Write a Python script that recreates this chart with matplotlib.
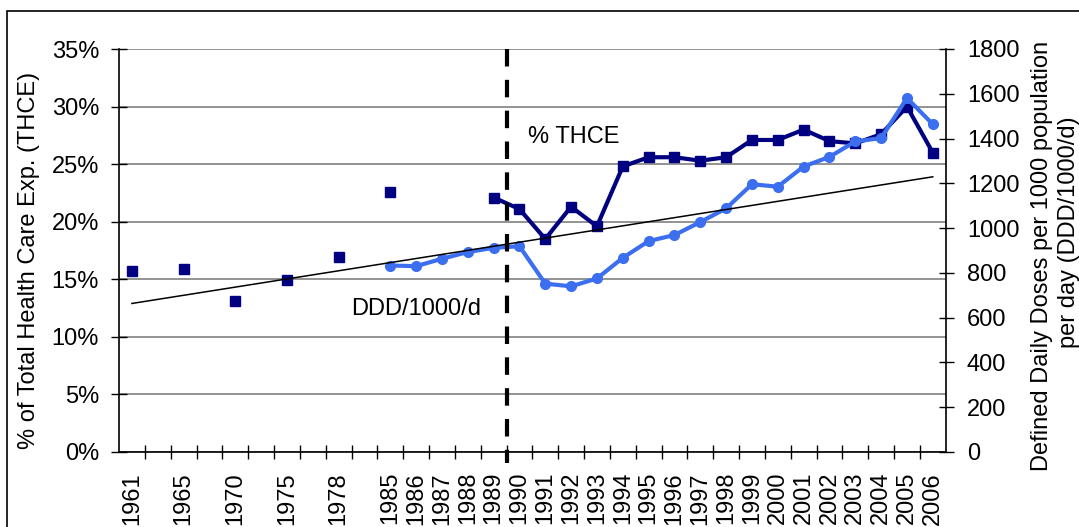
import numpy as np
import matplotlib
matplotlib.use("Agg")
import matplotlib.pyplot as plt
import matplotlib.transforms as mtransforms
from matplotlib.patches import Rectangle
from matplotlib.ticker import FuncFormatter

plt.rcParams['font.family'] = ['Liberation Sans', 'DejaVu Sans']

nan = np.nan

# ---- data ----
categories = ['1961', '', '1965', '', '1970', '', '1975', '', '1978', '',
              '1985', '1986', '1987', '1988', '1989', '1990', '1991', '1992',
              '1993', '1994', '1995', '1996', '1997', '1998', '1999', '2000',
              '2001', '2002', '2003', '2004', '2005', '2006']

thce_pct = [15.7, nan, 15.9, nan, 13.1, nan, 14.9, nan, 16.9, nan,
            22.6, nan, nan, nan, 22.1, 21.1, 18.5, 21.3,
            19.6, 24.8, 25.6, 25.6, 25.3, 25.6, 27.1, 27.1,
            28.0, 27.0, 26.8, 27.6, 30.0, 26.0]

ddd_per_1000 = [nan, nan, nan, nan, nan, nan, nan, nan, nan, nan,
                833, 830, 863, 893, 912, 919, 752, 740,
                775, 867, 942, 969, 1027, 1088, 1196, 1185,
                1275, 1318, 1387, 1402, 1581, 1464]

trend_years = ['1961', '2006']
trend_pct = [12.9, 23.9]

divider_between = ('1989', '1990')

left_ticks = [0, 5, 10, 15, 20, 25, 30, 35]
right_ticks = [0, 200, 400, 600, 800, 1000, 1200, 1400, 1600, 1800]

# ---- figure ----
W, H = 1079, 527
fig = plt.figure(figsize=(W / 100, H / 100), dpi=100)
ax_l, ax_r, ax_t, ax_b = 119, 945.7, 49, 452
ax = fig.add_axes([ax_l / W, 1 - ax_b / H, (ax_r - ax_l) / W, (ax_b - ax_t) / H])

x = np.arange(len(categories))
navy = '#000080'
blue = '#3C6EF0'
FS = 17

ax.plot(x, thce_pct, color=navy, lw=3, marker='s', ms=7.5, zorder=3,
        solid_joinstyle='miter')
ax.set_xlim(-0.5, len(categories) - 0.5)
ax.set_ylim(0, 35)
ax.set_yticks(left_ticks)
ax.yaxis.set_major_formatter(FuncFormatter(lambda v, p: f"{v:.0f}%"))
ax.grid(axis='y', color='#808080', lw=1.2)
ax.set_axisbelow(True)

ax.set_xticks(x, labels=categories)
ax.set_xticks(np.arange(0.5, len(categories) - 1, 1), minor=True)
ax.tick_params(axis='x', which='major', length=0, pad=14.4, labelsize=FS,
               labelrotation=90)
ax.tick_params(axis='x', which='minor', direction='inout', length=9.4, width=1)
ax.tick_params(axis='y', direction='inout', length=11.5, width=1, pad=8.6,
               labelsize=FS)
for s in ['top', 'right']:
    ax.spines[s].set_visible(False)
for s in ['left', 'bottom']:
    ax.spines[s].set_linewidth(1.2)

ax2 = ax.twinx()
ax2.plot(x, ddd_per_1000, color=blue, lw=3, marker='o', ms=7, zorder=3)
ax2.set_ylim(0, 1800)
ax2.set_yticks(right_ticks)
ax2.tick_params(axis='y', direction='inout', length=10.8, width=1, pad=9.9,
                labelsize=FS)
for s in ['top', 'left', 'bottom']:
    ax2.spines[s].set_visible(False)
ax2.spines['right'].set_linewidth(1.2)

# trend line (left-axis units)
tx = [categories.index(t) for t in trend_years]
ax2.plot(tx, trend_pct, transform=ax.transData, color='black', lw=1.1, zorder=5)

# dashed divider
dx = (categories.index(divider_between[0]) + categories.index(divider_between[1])) / 2
trans = mtransforms.blended_transform_factory(ax2.transData, ax2.transAxes)
ax2.plot([dx, dx], [1.0, -0.027], transform=trans, clip_on=False, color='black',
         lw=3, dashes=(4.2, 3.2), zorder=6)

# annotations
ax.text((528 - ax_l) / (ax_r - ax_l), (ax_b - 143) / (ax_b - ax_t), '% THCE',
        transform=ax.transAxes, fontsize=FS, ha='left', va='baseline')
ax.text((351 - ax_l) / (ax_r - ax_l), (ax_b - 315) / (ax_b - ax_t), 'DDD/1000/d',
        transform=ax.transAxes, fontsize=FS, ha='left', va='baseline')

# axis titles
fig.text(29 / W, 1 - 260 / H, '% of Total Health Care Exp. (THCE)', rotation=90,
         ha='center', va='center', fontsize=FS)
fig.text(1042 / W, 1 - 256 / H, 'Defined Daily Doses per 1000 population',
         rotation=90, ha='center', va='center', fontsize=FS)
fig.text(1069 / W, 1 - 232 / H, 'per day (DDD/1000/d)',
         rotation=90, ha='center', va='center', fontsize=FS)

# outer frame
fig.patches.append(Rectangle((7 / W, -0.5), 2, (1 - 11 / H) + 0.5,
                             transform=fig.transFigure, fill=False,
                             ec='black', lw=1.2))

fig.savefig('out.png', dpi=100)
